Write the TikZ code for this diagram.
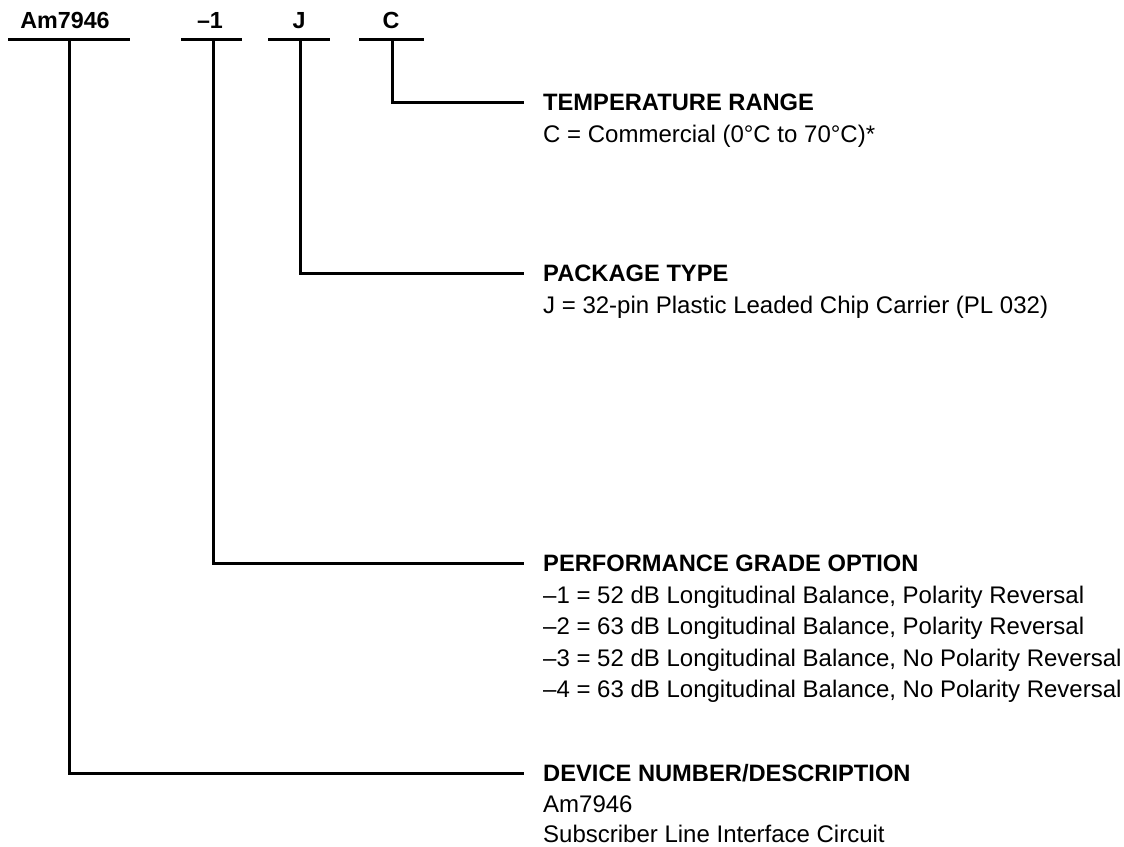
\documentclass[tikz,border=0pt]{standalone}
\usepackage{fontspec}
\setmainfont{Liberation Sans}
\begin{document}
\begin{tikzpicture}[x=1pt,y=-1pt,
  ln/.style={line width=3pt},
  hdr/.style={font=\fontsize{23.3}{26}\selectfont\bfseries, anchor=base, inner sep=0pt},
  head/.style={font=\fontsize{23.7}{26}\selectfont\bfseries, anchor=base west, inner sep=0pt},
  desc/.style={font=\fontsize{24}{26}\selectfont, anchor=base west, inner sep=0pt}]
\useasboundingbox (0,0) rectangle (1124,846);
% header labels
\node[hdr] (tAm) at (65,28.5) {Am7946};
\node[hdr] (tG) at (210,28.5) {--1};
\node[hdr] (tJ) at (299,28.5) {J};
\node[hdr] (tC) at (391,28.5) {C};
% bars
\coordinate (aL) at (8,39);   \coordinate (aR) at (130,39);
\coordinate (gL) at (181,39); \coordinate (gR) at (242,39);
\coordinate (jL) at (268,39); \coordinate (jR) at (330,39);
\coordinate (cL) at (359,39); \coordinate (cR) at (424,39);
\draw[ln] (aL) -- (aR);
\draw[ln] (gL) -- (gR);
\draw[ln] (jL) -- (jR);
\draw[ln] (cL) -- (cR);
\coordinate (aM) at (69,39);
\coordinate (gM) at (213,39);
\coordinate (jM) at (300,39);
\coordinate (cM) at (392,39);
% line ends
\coordinate (eC) at (524,102);
\coordinate (eJ) at (524,273);
\coordinate (eG) at (524,563);
\coordinate (eA) at (524,773);
\draw[ln] (cM) |- (eC);
\draw[ln] (jM) |- (eJ);
\draw[ln] (gM) |- (eG);
\draw[ln] (aM) |- (eA);
% headings and descriptions
\node[head] (hC) at (543,110.5) {TEMPERATURE RANGE};
\node[desc] (dC) at (543,142) {C = Commercial (0°C to 70°C)*};
\node[head] (hJ) at (543,281.5) {PACKAGE TYPE};
\node[desc] (dJ) at (543,313) {J = 32-pin Plastic Leaded Chip Carrier (PL 032)};
\node[head] (hG) at (543,571.5) {PERFORMANCE GRADE OPTION};
\node[desc] (dG1) at (543,603) {--1 = 52 dB Longitudinal Balance, Polarity Reversal};
\node[desc] (dG2) at (543,634.5) {--2 = 63 dB Longitudinal Balance, Polarity Reversal};
\node[desc] (dG3) at (543,666) {--3 = 52 dB Longitudinal Balance, No Polarity Reversal};
\node[desc] (dG4) at (543,697.5) {--4 = 63 dB Longitudinal Balance, No Polarity Reversal};
\node[head] (hA) at (543,781) {DEVICE NUMBER/DESCRIPTION};
\node[desc] (dA1) at (543,812) {Am7946};
\node[desc] (dA2) at (543,842) {Subscriber Line Interface Circuit};
\end{tikzpicture}
\end{document}
